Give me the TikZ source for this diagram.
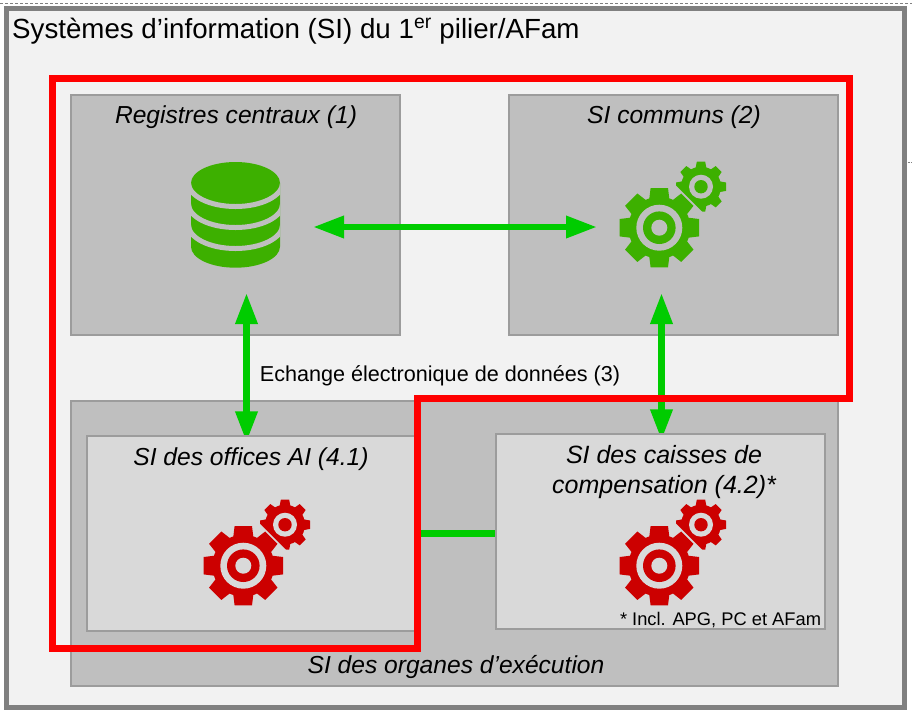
\documentclass[tikz,border=0pt]{standalone}
\usepackage{fontspec}
\setmainfont{Liberation Sans}
\usetikzlibrary{arrows.meta}
\definecolor{framegray}{HTML}{808080}
\definecolor{palegray}{HTML}{F2F2F2}
\definecolor{midgray}{HTML}{BFBFBF}
\definecolor{lightgray}{HTML}{D9D9D9}
\definecolor{edgegray}{HTML}{9C9C9C}
\definecolor{linkgreen}{HTML}{00CC00}
\definecolor{icongreen}{HTML}{3DB000}
\definecolor{iconred}{HTML}{CC0000}
\pgfdeclarelayer{boxes}
\pgfdeclarelayer{links}
\pgfsetlayers{boxes,links,main}
\tikzset{
  outerbox/.style={draw=edgegray,fill=midgray,line width=1.2pt,inner sep=0pt},
  innerbox/.style={draw=edgegray,fill=lightgray,line width=1.2pt,inner sep=0pt},
  boxlabel/.style={font=\fontsize{24.6}{30}\selectfont\itshape,align=center},
  iconbox/.style={inner sep=0pt,outer sep=25pt},
  link/.style={draw=linkgreen,line width=6.5pt},
  arrowlink/.style={link,{Triangle[length=31pt,width=21pt]}-{Triangle[length=31pt,width=21pt]}},
  pics/dbicon/.style 2 args={code={
    \fill[#1] (-44.5,-32) -- (-44.5,31.7) arc[start angle=180,end angle=0,x radius=44.5,y radius=21]
      -- (44.5,-32) arc[start angle=360,end angle=180,x radius=44.5,y radius=21] -- cycle;
    \begin{scope}
      \clip (-44.5,-60) rectangle (44.5,60);
      \foreach \y in {-32,-11,10}
        \draw[#2,line width=5pt] (-47,\y) arc[start angle=180,end angle=0,x radius=47,y radius=23.5];
    \end{scope}
  }},
  pics/gearicon/.style 2 args={code={
    % small wheel
    \begin{scope}[shift={(28,-28.3)}]
      \fill[#1] (0,0) circle (20);
      \foreach \a in {0,45,...,315}
        \fill[#1,rotate=\a] (18,-5.5) -- (25,-4.2) -- (25,4.2) -- (18,5.5) -- cycle;
      \fill[#2] (0,0) circle (12);
      \fill[#1] (0,0) circle (6.7);
      \fill[#2,rotate=225] (17,-26) rectangle (26,26);
    \end{scope}
    % big wheel
    \begin{scope}[shift={(-13.7,12.7)}]
      \fill[#1] (0,0) circle (31);
      \foreach \a in {0,45,...,315}
        \fill[#1,rotate=\a] (29,-10) -- (39.7,-8.7) -- (39.7,8.7) -- (29,10) -- cycle;
      \fill[#2] (0,0) circle (23);
      \fill[#1] (0,0) circle (16.3);
      \fill[#2] (0,0) circle (8);
    \end{scope}
  }}
}

\begin{document}
\begin{tikzpicture}[x=1pt,y=-1pt]
  \useasboundingbox (0,0) rectangle (912,716);
  \begin{pgfonlayer}{boxes}
    \draw [framegray,densely dashed,line width=.6pt] (0,3.5) -- (912,3.5);
    \draw [framegray,densely dotted,line width=.6pt] (906,162) -- (912,162);
    \node [draw=framegray,fill=palegray,line width=5pt,inner sep=0pt,minimum width=898pt,minimum height=699pt] (frame) at (455,357.5) {};
    \node [outerbox,minimum width=329pt,minimum height=240pt] (regbox) at (235.5,215) {};
    \node [outerbox,minimum width=329pt,minimum height=240pt] (commonbox) at (673.5,215) {};
    \node [outerbox,minimum width=767pt,minimum height=285pt] (organbox) at (454.5,543.5) {};
  \end{pgfonlayer}

  \node [innerbox,minimum width=328pt,minimum height=195pt] (officebox) at (251,533.5) {};
  \node [innerbox,minimum width=329pt,minimum height=195pt] (caissebox) at (660.5,531.5) {};

  \node [iconbox,minimum width=89pt,minimum height=106pt] (regicon) at (235.5,215) {};
  \node [iconbox,minimum width=106pt,minimum height=106pt] (commonicon) at (673,215) {};
  \node [iconbox,minimum width=106pt,minimum height=106pt] (officeicon) at (257,553) {};
  \node [iconbox,minimum width=106pt,minimum height=106pt] (caisseicon) at (673,553) {};
  \pic at (regicon) {dbicon={icongreen}{midgray}};
  \pic at (commonicon) {gearicon={icongreen}{midgray}};
  \pic at (officeicon) {gearicon={iconred}{lightgray}};
  \pic at (caisseicon) {gearicon={iconred}{lightgray}};

  \begin{pgfonlayer}{links}
    \draw [arrowlink,shorten <=8pt,shorten >=-2pt] (regicon.east |- 0,227) -- (commonicon.west |- 0,227);
    \draw [arrowlink,shorten >=-7pt] ([xshift=11pt]regicon.south) -- ([xshift=-4.5pt]officebox.north);
    \draw [arrowlink,shorten >=-7pt] ([xshift=-11.5pt]commonicon.south) -- ([xshift=1pt]caissebox.north);
    \draw [link] (officebox.east) -- (caissebox.west |- officebox.east);
  \end{pgfonlayer}

  \node [font=\fontsize{27.7}{30}\selectfont,anchor=base west,inner sep=0pt] (title) at (12,38) {Systèmes d’information (SI) du 1\textsuperscript{er} pilier/AFam};
  \node [boxlabel] (reglabel) at (236,117) {Registres centraux (1)};
  \node [boxlabel] (commonlabel) at (674,117) {SI communs (2)};
  \node [boxlabel] (officelabel) at (251,459) {SI des offices AI (4.1)};
  \node [font=\fontsize{25}{30}\selectfont\itshape,align=center] (caisselabel) at (664,472) {SI des caisses de\\compensation (4.2)*};
  \node [boxlabel] (organlabel) at (456,667) {SI des organes d’exécution};
  \node [font=\fontsize{21.6}{24}\selectfont] (linklabel) at (440,376) {Echange électronique de données (3)};
  \node [font=\fontsize{18.3}{20}\selectfont,inner sep=0pt] (notelabel) at (720.5,620) {* Incl. APG, PC et AFam};

  \draw [red,line width=7pt,line join=miter] (52.5,78.5) -- (849.5,78.5) -- (849.5,398.5) -- (417.5,398.5) -- (417.5,648.5) -- (52.5,648.5) -- cycle;
\end{tikzpicture}
\end{document}
